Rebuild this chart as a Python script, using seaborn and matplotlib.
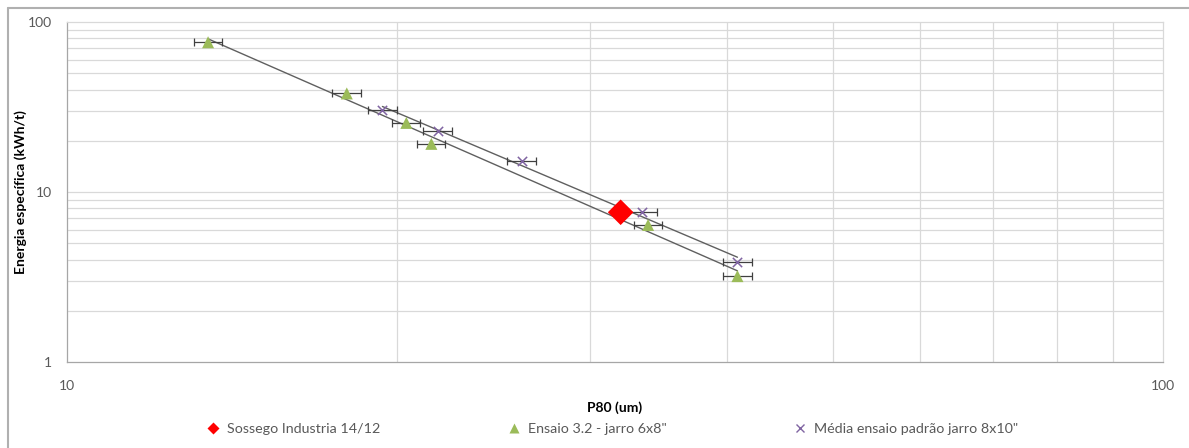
import numpy as np
import pandas as pd
import matplotlib
matplotlib.use("Agg")
import matplotlib.pyplot as plt
from matplotlib.lines import Line2D
import seaborn as sns

# --- data -------------------------------------------------------------
sossego_p80 = [32.0]
sossego_energy = [7.6]

jarro6_p80 = [13.45, 18.0, 20.4, 21.5, 33.9, 40.9]
jarro6_energy = [76.0, 38.0, 25.5, 19.2, 6.4, 3.2]

jarro8_p80 = [19.4, 21.8, 26.0, 33.5, 40.9]
jarro8_energy = [30.3, 22.9, 15.3, 7.6, 3.85]

p80_error_frac = 0.03  # horizontal error bars, fraction of P80

series_labels = ["Sossego Industria 14/12",
                 "Ensaio 3.2 - jarro 6x8\"",
                 "Média ensaio padrão jarro 8x10\""]
x_ticks = [10, 100]
y_ticks = [1, 10, 100]
x_label = "P80 (um)"
y_label = "Energia específica (kWh/t)"

RED = "#FF0000"
GREEN = "#9BBB59"
PURPLE = "#8064A2"
TREND = "#5f5f5f"
GRID = "#d9d9d9"
TEXT = "#595959"

sns.set_theme(style="white")
plt.rcParams["font.family"] = ["Lato", "DejaVu Sans"]

fig = plt.figure(figsize=(11.89, 4.48), dpi=100)
ax = fig.add_axes([67 / 1189, 1 - 362 / 448, (1163 - 67) / 1189, (362 - 22) / 448])
ax.set_xscale("log")
ax.set_yscale("log")
ax.set_xlim(10, 100)
ax.set_ylim(1, 100)

# grid: every integer subdivision of each decade
for v in list(range(20, 100, 10)):
    ax.axvline(v, color=GRID, lw=0.9, zorder=0)
for dec in (1, 10):
    for k in range(2, 10):
        ax.axhline(k * dec, color=GRID, lw=0.9, zorder=0)
ax.axhline(10, color=GRID, lw=0.9, zorder=0)

df6 = pd.DataFrame({"p80": jarro6_p80, "energy": jarro6_energy})
df8 = pd.DataFrame({"p80": jarro8_p80, "energy": jarro8_energy})
dfs = pd.DataFrame({"p80": sossego_p80, "energy": sossego_energy})


def power_trend(df):
    b, a = np.polyfit(np.log10(df["p80"]), np.log10(df["energy"]), 1)
    xs = np.geomspace(df["p80"].min(), df["p80"].max(), 50)
    return pd.DataFrame({"p80": xs, "energy": 10 ** a * xs ** b})


# power-law trendlines
sns.lineplot(data=power_trend(df6), x="p80", y="energy", color=TREND, lw=1.0,
             ax=ax, zorder=2)
sns.lineplot(data=power_trend(df8), x="p80", y="energy", color=TREND, lw=1.0,
             ax=ax, zorder=2)

# horizontal error bars
for df in (df6, df8):
    ax.errorbar(df["p80"], df["energy"], xerr=df["p80"] * p80_error_frac,
                fmt="none", ecolor="#404040", elinewidth=0.9, capsize=3,
                capthick=0.9, zorder=3)

sns.scatterplot(data=df6, x="p80", y="energy", marker="^", s=75, color=GREEN,
                edgecolor="none", ax=ax, zorder=4)
sns.scatterplot(data=df8, x="p80", y="energy", marker="x", s=45, color=PURPLE,
                linewidth=1.1, ax=ax, zorder=4)
sns.scatterplot(data=dfs, x="p80", y="energy", marker="D", s=170, color=RED,
                edgecolor="none", ax=ax, zorder=5)

# axes styling
ax.set_xticks(x_ticks)
ax.set_xticklabels([str(t) for t in x_ticks])
ax.set_yticks(y_ticks)
ax.set_yticklabels([str(t) for t in y_ticks])
ax.minorticks_off()
ax.tick_params(axis="both", which="major", direction="out", length=5, width=0.9,
               color="#a6a6a6", labelcolor=TEXT, labelsize=10)
ax.tick_params(axis="y", pad=6)
ax.tick_params(axis="x", pad=8)
for side in ("left", "bottom"):
    ax.spines[side].set_color("#a6a6a6")
    ax.spines[side].set_linewidth(0.9)
for side in ("top", "right"):
    ax.spines[side].set_color(GRID)
    ax.spines[side].set_linewidth(0.9)

ax.set_xlabel(x_label, fontsize=10, fontweight="bold", color="#000000")
ax.set_ylabel(y_label, fontsize=10, fontweight="bold", color="#000000")
ax.xaxis.set_label_coords(0.5, -(408 - 362) / 340, transform=ax.transAxes)
ax.yaxis.set_label_coords(-(67 - 21) / 1096, 0.5, transform=ax.transAxes)
ax.xaxis.label.set_va("center")
ax.yaxis.label.set_va("center")

# legend along the bottom
handles = [
    Line2D([], [], ls="none", marker="D", ms=6, color=RED, mec="none"),
    Line2D([], [], ls="none", marker="^", ms=7, color=GREEN, mec="none"),
    Line2D([], [], ls="none", marker="x", ms=6, color=PURPLE, mew=1.0),
]
leg = fig.legend(handles, series_labels, loc="center",
                 bbox_to_anchor=(612 / 1189, 1 - 429 / 448), ncol=3, frameon=False,
                 handlelength=1.0, handletextpad=0.5, columnspacing=8.8,
                 fontsize=10.3)
for t in leg.get_texts():
    t.set_color(TEXT)

# chart-area border
fig.add_artist(Line2D([8 / 1189, 1], [1 - 8 / 448, 1 - 8 / 448],
                      transform=fig.transFigure, color="#b0b0b0", lw=1.5))
fig.add_artist(Line2D([8 / 1189, 8 / 1189], [0, 1 - 8 / 448],
                      transform=fig.transFigure, color="#b0b0b0", lw=1.5))

fig.savefig("out.png", dpi=100, facecolor="white")
